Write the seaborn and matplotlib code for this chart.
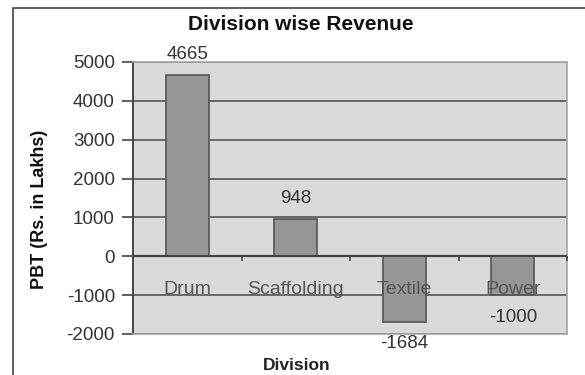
import matplotlib
matplotlib.use("Agg")
import matplotlib.pyplot as plt
import seaborn as sns
import pandas as pd
from matplotlib.patches import Rectangle

# data
divisions = ["Drum", "Scaffolding", "Textile", "Power"]
pbt = [4665, 948, -1684, -1000]
yticks = [-2000, -1000, 0, 1000, 2000, 3000, 4000, 5000]

df = pd.DataFrame({"Division": divisions, "PBT": pbt})

sns.set_style("white")
plt.rcParams["font.family"] = ["Liberation Sans", "DejaVu Sans"]
plt.rcParams["axes.unicode_minus"] = False

fig = plt.figure(figsize=(5.85, 3.75), dpi=100)
ax = fig.add_axes([133 / 585, 1 - 334 / 375, 434 / 585, 272 / 375])
ax.set_facecolor("#d9d9d9")

# outer chart frame (cropped on the right and bottom)
fig.patches.append(Rectangle((13 / 585, -0.1), 1.2, 1.1 - 8 / 375, transform=fig.transFigure,
                             fill=False, edgecolor="#444444", linewidth=1.2))

sns.barplot(data=df, x="Division", y="PBT", color="#969696", edgecolor="#555555",
            linewidth=1.2, width=0.4, saturation=1, ax=ax, zorder=3)

ax.set_ylim(-2000, 5000)
ax.set_yticks(yticks)
ax.yaxis.grid(True, color="#555555", linewidth=1.2, zorder=0)
ax.set_axisbelow(True)
ax.axhline(0, color="#444444", linewidth=1.6, zorder=4)
ax.vlines([i + 0.5 for i in range(len(divisions))], -120, 0, color="#444444", linewidth=1.2,
          zorder=4, clip_on=False)
ax.set_xlim(-0.5, len(divisions) - 0.5)

for s in ["top", "right", "bottom"]:
    ax.spines[s].set_color("#a6a6a6")
    ax.spines[s].set_linewidth(1.2)
ax.spines["left"].set_color("#444444")
ax.spines["left"].set_linewidth(1.4)

ax.tick_params(axis="y", direction="out", length=8, width=1.2, color="#444444",
               labelsize=13.5, labelcolor="#333333", left=True, pad=5)
ax.set_xticks([])
ax.set_xlabel("")
ax.set_ylabel("")

# category labels sit below the zero line
for i, name in enumerate(divisions):
    ax.text(i, -850, name, ha="center", va="center", fontsize=14, color="#555555", zorder=5)

# value labels outside bar ends
for i, v in enumerate(pbt):
    off = 15 if v >= 0 else -16
    ax.annotate(str(v), (i, v), xytext=(0, off), textcoords="offset points",
                ha="center", va="center", fontsize=13.5, color="#333333", annotation_clip=False)

fig.text(301 / 585, 1 - 25 / 375, "Division wise Revenue", ha="center", va="center",
         fontsize=15, fontweight="bold", color="#111111")
fig.text(297 / 585, 1 - 365 / 375, "Division", ha="center", va="center",
         fontsize=12.5, fontweight="bold", color="#222222")
fig.text(40 / 585, 1 - 209 / 375, "PBT (Rs. in Lakhs)", ha="center", va="center",
         rotation=90, fontsize=13, fontweight="bold", color="#111111")

fig.savefig("out.png", dpi=100)
